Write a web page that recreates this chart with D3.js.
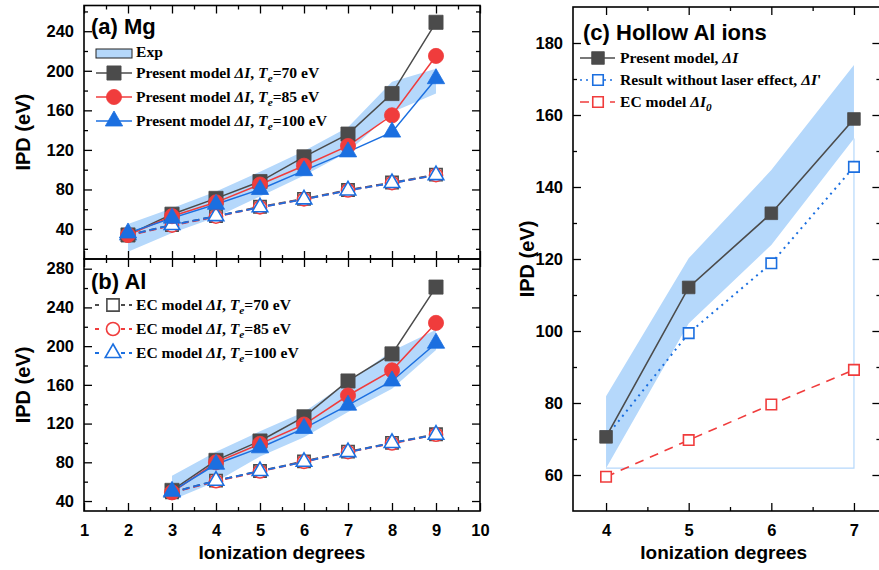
<!DOCTYPE html>
<html>
<head>
<meta charset="utf-8">
<script src="https://cdn.jsdelivr.net/npm/d3@7"></script>
<style>
  body { margin: 0; background: #fff; }
  svg { display: block; }
</style>
</head>
<body>
<svg id="chart" width="879" height="570"></svg>
<script>
// ---------------- data ----------------
// (a) Mg
const mgDegrees = [2, 3, 4, 5, 6, 7, 8, 9];
const mgPresent70 = [34, 55, 71, 88, 113, 136, 177, 249];
const mgPresent85 = [34, 53, 67, 85, 104, 124, 155, 215];
const mgPresent100 = [36, 51, 65, 80, 99, 118, 138, 192];
const mgEC70 = [34, 44, 53, 62.5, 70.5, 79.5, 87, 95];
const mgEC85 = [33.5, 43.5, 52.5, 62, 70, 79, 86.5, 94.5];
const mgEC100 = [34, 44, 53, 62, 70, 79, 86.5, 94.5];
const mgExpLow = [17, 36, 52, 73, 94, 118, 158, 177];
const mgExpHigh = [45, 61, 78, 98, 119, 143, 189, 202];

// (b) Al
const alDegrees = [3, 4, 5, 6, 7, 8, 9];
const alPresent70 = [51, 82, 102, 127, 164, 192, 261];
const alPresent85 = [49, 80, 99, 119, 149, 175, 224];
const alPresent100 = [50, 78, 95, 115, 139, 164, 203];
const alEC70 = [49, 61, 71, 81, 91, 100, 109];
const alEC85 = [48.5, 60.5, 70.5, 80.5, 90.5, 99.5, 108.5];
const alEC100 = [49, 61, 71, 80.5, 90.5, 100, 108.5];
const alExpLow = [41, 60, 86, 106, 132, 156, 196];
const alExpHigh = [66, 91, 112, 132, 163, 195, 217];

// (c) Hollow Al ions
const hollowDegrees = [4, 5, 6, 7];
const hollowPresent = [70.6, 112.1, 132.7, 158.9];
const hollowNoLaser = [70.6, 99.4, 118.8, 145.6];
const hollowEC = [59.5, 69.7, 79.6, 89.2];
const hollowExpLow = [61.9, 102.1, 123.9, 153.5];
const hollowExpHigh = [81.9, 120.2, 144.7, 173.9];

// ticks
const leftXTicks = [1, 2, 3, 4, 5, 6, 7, 8, 9, 10];
const leftXMinor = [1.5, 2.5, 3.5, 4.5, 5.5, 6.5, 7.5, 8.5, 9.5];
const mgYTicks = [40, 80, 120, 160, 200, 240];
const mgYMinor = [20, 60, 100, 140, 180, 220, 260];
const alYTicks = [40, 80, 120, 160, 200, 240, 280];
const alYMinor = [60, 100, 140, 180, 220, 260];
const hollowXTicks = [4, 5, 6, 7];
const hollowXMinor = [4.5, 5.5, 6.5];
const hollowYTicks = [60, 80, 100, 120, 140, 160, 180];
const hollowYMinor = [70, 90, 110, 130, 150, 170];

// ---------------- styles ----------------
const GRAY = "#4b4b4b", RED = "#f03c3c", BLUE = "#1b6fe0", BAND = "#b5d8fb";
const SANS = "'Liberation Sans', Arial, sans-serif";
const SERIF = "'Liberation Serif', 'Times New Roman', serif";

const svg = d3.select("#chart");

// ---------------- layout ----------------
const L = { left: 84, right: 480, aTop: 5.5, mid: 259, bBottom: 511 };
const R = { left: 573, right: 880.4, top: 7, bottom: 511 };

const xLeft = d3.scaleLinear().domain([1, 10]).range([L.left, L.right]);
const yMg = d3.scaleLinear().domain([9.7, 266]).range([L.mid, L.aTop]);
const yAl = d3.scaleLinear().domain([29.7, 290]).range([L.bBottom, L.mid]);
const xHol = d3.scaleLinear().domain([3.6, 7.32]).range([R.left, R.right]);
const yHol = d3.scaleLinear().domain([50, 190]).range([R.bottom, R.top]);

// ---------------- helpers ----------------
function band(g, xs, lo, hi, x, y) {
  const area = d3.area().x((d, i) => x(xs[i])).y0((d, i) => y(lo[i])).y1((d, i) => y(hi[i]));
  g.append("path").datum(xs).attr("d", area).attr("fill", BAND).attr("stroke", "none");
}

function series(g, xs, ys, x, y, opt) {
  const line = d3.line().x((d, i) => x(xs[i])).y((d, i) => y(ys[i]));
  g.append("path").datum(xs).attr("d", line)
    .attr("fill", "none").attr("stroke", opt.color).attr("stroke-width", opt.width || 1.5)
    .attr("stroke-dasharray", opt.dash || null);
}

function markers(g, xs, ys, x, y, opt) {
  const sym = d3.symbol().type(opt.type).size(opt.size);
  g.selectAll(null).data(xs).enter().append("path")
    .attr("d", sym)
    .attr("transform", (d, i) => `translate(${x(xs[i])},${y(ys[i])})`)
    .attr("fill", opt.open ? "#fff" : opt.color)
    .attr("stroke", opt.color)
    .attr("stroke-width", opt.open ? 1.6 : 0.8);
}

function axisStyle(sel, fontSize) {
  sel.select(".domain").remove();
  sel.selectAll(".tick line").attr("stroke", "#000").attr("stroke-width", 1.3);
  sel.selectAll(".tick text").attr("font-family", SANS).attr("font-weight", "bold")
    .attr("font-size", fontSize).attr("fill", "#000");
}

function frameAxes(g, x, y, box, o) {
  // major + minor ticks, all pointing inward
  const add = (axis, tx, ty, labels) => {
    const s = g.append("g").attr("transform", `translate(${tx},${ty})`).call(axis);
    axisStyle(s, 16.5);
    if (!labels) s.selectAll(".tick text").remove();
    return s;
  };
  if (o.bottom) {
    add(d3.axisBottom(x).tickValues(o.xTicks).tickSize(-8).tickPadding(13).tickFormat(d3.format("d")), 0, box.bottom, o.bottomLabels);
    add(d3.axisBottom(x).tickValues(o.xMinor).tickSize(-4).tickFormat(""), 0, box.bottom, false);
  }
  if (o.top) {
    add(d3.axisTop(x).tickValues(o.xTicks).tickSize(-8).tickFormat(""), 0, box.top, false);
    add(d3.axisTop(x).tickValues(o.xMinor).tickSize(-4).tickFormat(""), 0, box.top, false);
  }
  add(d3.axisLeft(y).tickValues(o.yTicks).tickSize(-8).tickPadding(10).tickFormat(d3.format("d")), box.left, 0, true);
  add(d3.axisLeft(y).tickValues(o.yMinor).tickSize(-4).tickFormat(""), box.left, 0, false);
  if (o.right !== false) {
    add(d3.axisRight(y).tickValues(o.yTicks).tickSize(-8).tickFormat(""), box.right, 0, false);
    add(d3.axisRight(y).tickValues(o.yMinor).tickSize(-4).tickFormat(""), box.right, 0, false);
  }
}

function richText(g, xPos, yPos, parts, size) {
  const t = g.append("text").attr("x", xPos).attr("y", yPos)
    .attr("font-family", SERIF).attr("font-weight", "bold").attr("font-size", size).attr("fill", "#000");
  let shifted = 0;
  parts.forEach(p => {
    const sp = t.append("tspan").text(p.t);
    if (p.i) sp.attr("font-style", "italic");
    const target = p.sub ? 4 : 0;
    if (target !== shifted) { sp.attr("dy", target - shifted); shifted = target; }
    if (p.sub) sp.attr("font-size", size * 0.72);
  });
  return t;
}

// ---------------- panel (a) Mg ----------------
const gA = svg.append("g");
band(gA, mgDegrees, mgExpLow, mgExpHigh, xLeft, yMg);
[[mgEC70, GRAY], [mgEC85, RED], [mgEC100, BLUE]]
  .forEach(([v, c]) => series(gA, mgDegrees, v, xLeft, yMg, { color: c, dash: "7,4", width: 1.8 }));
[[mgEC70, GRAY, d3.symbolSquare, 150], [mgEC85, RED, d3.symbolCircle, 135], [mgEC100, BLUE, d3.symbolTriangle, 105]]
  .forEach(([v, c, s, z]) => markers(gA, mgDegrees, v, xLeft, yMg, { color: c, type: s, size: z, open: true }));
[[mgPresent70, GRAY], [mgPresent85, RED], [mgPresent100, BLUE]]
  .forEach(([v, c]) => series(gA, mgDegrees, v, xLeft, yMg, { color: c }));
[[mgPresent70, GRAY, d3.symbolSquare, 200], [mgPresent85, RED, d3.symbolCircle, 180], [mgPresent100, BLUE, d3.symbolTriangle, 130]]
  .forEach(([v, c, s, z]) => markers(gA, mgDegrees, v, xLeft, yMg, { color: c, type: s, size: z }));

frameAxes(gA, xLeft, yMg, { left: L.left, right: L.right, top: L.aTop, bottom: L.mid },
  { top: true, bottom: true, bottomLabels: false, xTicks: leftXTicks, xMinor: leftXMinor, yTicks: mgYTicks, yMinor: mgYMinor });

// ---------------- panel (b) Al ----------------
const gB = svg.append("g");
band(gB, alDegrees, alExpLow, alExpHigh, xLeft, yAl);
[[alEC70, GRAY], [alEC85, RED], [alEC100, BLUE]]
  .forEach(([v, c]) => series(gB, alDegrees, v, xLeft, yAl, { color: c, dash: "7,4", width: 1.8 }));
[[alEC70, GRAY, d3.symbolSquare, 150], [alEC85, RED, d3.symbolCircle, 135], [alEC100, BLUE, d3.symbolTriangle, 105]]
  .forEach(([v, c, s, z]) => markers(gB, alDegrees, v, xLeft, yAl, { color: c, type: s, size: z, open: true }));
[[alPresent70, GRAY], [alPresent85, RED], [alPresent100, BLUE]]
  .forEach(([v, c]) => series(gB, alDegrees, v, xLeft, yAl, { color: c }));
[[alPresent70, GRAY, d3.symbolSquare, 200], [alPresent85, RED, d3.symbolCircle, 180], [alPresent100, BLUE, d3.symbolTriangle, 130]]
  .forEach(([v, c, s, z]) => markers(gB, alDegrees, v, xLeft, yAl, { color: c, type: s, size: z }));

frameAxes(gB, xLeft, yAl, { left: L.left, right: L.right, top: L.mid, bottom: L.bBottom },
  { top: true, bottom: true, bottomLabels: true, xTicks: leftXTicks, xMinor: leftXMinor, yTicks: alYTicks, yMinor: alYMinor });

// frames for (a) and (b)
svg.append("rect").attr("x", L.left).attr("y", L.aTop).attr("width", L.right - L.left).attr("height", L.mid - L.aTop)
  .attr("fill", "none").attr("stroke", "#000").attr("stroke-width", 1.6);
svg.append("rect").attr("x", L.left).attr("y", L.mid).attr("width", L.right - L.left).attr("height", L.bBottom - L.mid)
  .attr("fill", "none").attr("stroke", "#000").attr("stroke-width", 1.6);

// ---------------- panel (c) Hollow Al ions ----------------
const gC = svg.append("g");
band(gC, hollowDegrees, hollowExpLow, hollowExpHigh, xHol, yHol);
// thin outline closing the shaded region down to its lowest level
const last = hollowDegrees.length - 1;
gC.append("path")
  .datum([[hollowDegrees[last], hollowExpLow[last]], [hollowDegrees[last], hollowExpLow[0]], [hollowDegrees[0], hollowExpLow[0]]])
  .attr("d", d3.line().x(d => xHol(d[0])).y(d => yHol(d[1])))
  .attr("fill", "none").attr("stroke", BAND).attr("stroke-width", 1.2);

series(gC, hollowDegrees, hollowEC, xHol, yHol, { color: RED, dash: "9,7", width: 1.6 });
series(gC, hollowDegrees, hollowNoLaser, xHol, yHol, { color: BLUE, dash: "2,4.5", width: 2 });
markers(gC, hollowDegrees, hollowEC, xHol, yHol, { color: RED, type: d3.symbolSquare, size: 110, open: true });
markers(gC, hollowDegrees, hollowNoLaser, xHol, yHol, { color: BLUE, type: d3.symbolSquare, size: 110, open: true });
series(gC, hollowDegrees, hollowPresent, xHol, yHol, { color: GRAY, width: 1.6 });
markers(gC, hollowDegrees, hollowPresent, xHol, yHol, { color: GRAY, type: d3.symbolSquare, size: 160 });

frameAxes(gC, xHol, yHol, R,
  { top: true, bottom: true, bottomLabels: true, xTicks: hollowXTicks, xMinor: hollowXMinor, yTicks: hollowYTicks, yMinor: hollowYMinor });
svg.append("rect").attr("x", R.left).attr("y", R.top).attr("width", R.right - R.left).attr("height", R.bottom - R.top)
  .attr("fill", "none").attr("stroke", "#000").attr("stroke-width", 1.6);

// ---------------- titles ----------------
const title = (x, y, txt, size) => svg.append("text").attr("x", x).attr("y", y).text(txt)
  .attr("font-family", SANS).attr("font-weight", "bold").attr("font-size", size).attr("fill", "#000");
title(91, 34, "(a) Mg", 22);
title(91, 289, "(b) Al", 22);
title(583, 40, "(c) Hollow Al ions", 22);

const yTitle = (x, y, txt) => svg.append("text").attr("transform", `translate(${x},${y}) rotate(-90)`)
  .attr("text-anchor", "middle").text(txt)
  .attr("font-family", SANS).attr("font-weight", "bold").attr("font-size", 20).attr("fill", "#000");
yTitle(30, (L.aTop + L.mid) / 2, "IPD (eV)");
yTitle(30, (L.mid + L.bBottom) / 2, "IPD (eV)");
yTitle(534, (R.top + R.bottom) / 2, "IPD (eV)");

const xTitle = (x, txt) => svg.append("text").attr("x", x).attr("y", 559).attr("text-anchor", "middle").text(txt)
  .attr("font-family", SANS).attr("font-weight", "bold").attr("font-size", 19).attr("fill", "#000");
xTitle((L.left + L.right) / 2, "Ionization degrees");
xTitle((R.left + R.right) / 2 - 3, "Ionization degrees");

// ---------------- legends ----------------
const LG = 15.6;
// (a)
const legA = svg.append("g");
legA.append("rect").attr("x", 96).attr("y", 49).attr("width", 36).attr("height", 9)
  .attr("fill", BAND).attr("stroke", "#222").attr("stroke-width", 1);
richText(legA, 136, 57, [{ t: "Exp" }], LG);
const legAItems = [
  { c: GRAY, s: d3.symbolSquare, z: 200, te: "=70 eV", y: 73 },
  { c: RED, s: d3.symbolCircle, z: 180, te: "=85 eV", y: 97 },
  { c: BLUE, s: d3.symbolTriangle, z: 130, te: "=100 eV", y: 121 }
];
legAItems.forEach(it => {
  legA.append("line").attr("x1", 96).attr("x2", 132).attr("y1", it.y).attr("y2", it.y)
    .attr("stroke", it.c).attr("stroke-width", 1.5);
  legA.append("path").attr("d", d3.symbol().type(it.s).size(it.z)).attr("transform", `translate(114,${it.y})`)
    .attr("fill", it.c).attr("stroke", it.c).attr("stroke-width", 0.8);
  richText(legA, 136, it.y + 5, [{ t: "Present model " }, { t: "ΔI", i: true }, { t: ", " }, { t: "T", i: true }, { t: "e", i: true, sub: true }, { t: it.te }], LG);
});

// (b)
const legB = svg.append("g");
const legBItems = [
  { c: GRAY, s: d3.symbolSquare, z: 150, te: "=70 eV", y: 305 },
  { c: RED, s: d3.symbolCircle, z: 135, te: "=85 eV", y: 329 },
  { c: BLUE, s: d3.symbolTriangle, z: 105, te: "=100 eV", y: 353 }
];
legBItems.forEach(it => {
  legB.append("line").attr("x1", 95).attr("x2", 132).attr("y1", it.y).attr("y2", it.y)
    .attr("stroke", it.c).attr("stroke-width", 1.8).attr("stroke-dasharray", "4,7,0,15,4");
  legB.append("path").attr("d", d3.symbol().type(it.s).size(it.z)).attr("transform", `translate(113,${it.y})`)
    .attr("fill", "#fff").attr("stroke", it.c).attr("stroke-width", 1.6);
  richText(legB, 136, it.y + 5, [{ t: "EC model " }, { t: "ΔI", i: true }, { t: ", " }, { t: "T", i: true }, { t: "e", i: true, sub: true }, { t: it.te }], LG);
});

// (c)
const legC = svg.append("g");
const legCItems = [
  { c: GRAY, open: false, dash: null, y: 58, parts: [{ t: "Present model, " }, { t: "ΔI", i: true }] },
  { c: BLUE, open: true, dash: "2,4", y: 80, parts: [{ t: "Result without laser effect, " }, { t: "ΔI", i: true }, { t: "'" }] },
  { c: RED, open: true, dash: "9,6", y: 102, parts: [{ t: "EC model " }, { t: "ΔI", i: true }, { t: "0", i: true, sub: true }] }
];
legCItems.forEach(it => {
  legC.append("line").attr("x1", 580).attr("x2", 615).attr("y1", it.y).attr("y2", it.y)
    .attr("stroke", it.c).attr("stroke-width", 1.6).attr("stroke-dasharray", it.dash);
  legC.append("path").attr("d", d3.symbol().type(d3.symbolSquare).size(it.open ? 110 : 160))
    .attr("transform", `translate(598,${it.y})`)
    .attr("fill", it.open ? "#fff" : it.c).attr("stroke", it.c).attr("stroke-width", it.open ? 1.6 : 0.8);
  richText(legC, 620, it.y + 5, it.parts, LG);
});
</script>
</body>
</html>
